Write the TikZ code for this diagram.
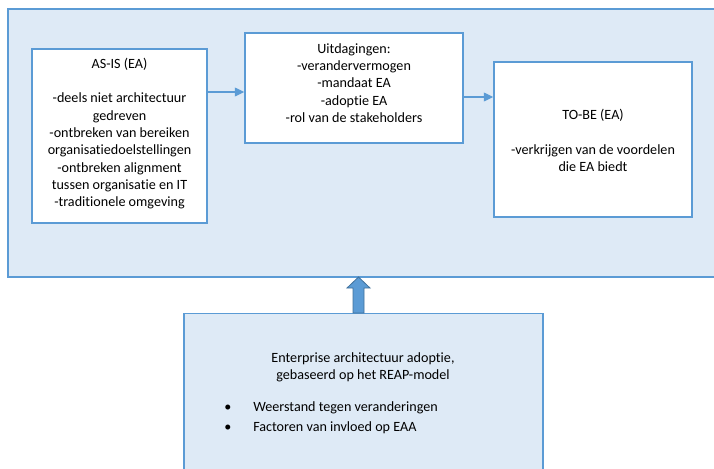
\documentclass[tikz,border=0pt]{standalone}
\usepackage{fontspec}
\setmainfont{Carlito}[Ligatures={NoCommon}]
\usetikzlibrary{arrows.meta,calc}
\newdimen\pxu \pxu=0.75pt
\definecolor{edgeblue}{HTML}{5B9BD5}
\definecolor{paleblue}{HTML}{DEEAF6}
\definecolor{darkedge}{HTML}{41719C}
\begin{document}
\begin{tikzpicture}[x=0.75pt,y=-0.75pt,
  panel/.style={draw=edgeblue,line width=1.1pt,fill=paleblue,inner sep=0pt,rectangle},
  whitebox/.style={draw=edgeblue,line width=1.1pt,fill=white,inner sep=0pt,rectangle},
  label/.style={align=center,inner sep=0pt,font=\fontsize{10.6}{13}\selectfont},
  conn/.style={draw=edgeblue,line width=1pt,-{Triangle[length=7pt,width=6.5pt]}}
]
\useasboundingbox (0,0) rectangle (714,468);
% outer frame (runs past the right margin)
\node[panel,minimum width=712\pxu,minimum height=268\pxu] (frame) at (364,143) {};
% the three stages
\node[whitebox,minimum width=175\pxu,minimum height=174\pxu] (asis) at (119.5,136) {};
\node[whitebox,minimum width=218\pxu,minimum height=110\pxu] (uitd) at (354,88) {};
\node[whitebox,minimum width=198\pxu,minimum height=155\pxu] (tobe) at (593,139.5) {};
\node[label] (asisText) at (119.5,133.5) {AS-IS (EA)\\ \mbox{}\\-deels niet architectuur\\gedreven\\-ontbreken van bereiken\\organisatiedoelstellingen\\-ontbreken alignment\\tussen organisatie en IT\\-traditionele omgeving};
\node[label] (uitdText) at (354,83) {Uitdagingen:\\-verandervermogen\\-mandaat EA\\-adoptie EA\\-rol van de stakeholders};
\node[label] (tobeText) at (593,140.5) {TO-BE (EA)\\ \mbox{}\\-verkrijgen van de voordelen\\die EA biedt};
% flow between the stages
\draw[conn] ([yshift=-3pt]uitd.west -| asis.east) -- ([yshift=-3pt]uitd.west);
\draw[conn] ([yshift=-6.75pt]uitd.east) -- ([yshift=-6.75pt]uitd.east -| tobe.west);
% adoption panel below
\node[panel,anchor=north,minimum width=359\pxu,minimum height=200\pxu] (adopt) at (363.5,313) {};
\node[label] (adoptText) at (363,367) {Enterprise architectuur adoptie,\\gebaseerd op het REAP-model};
\node[label] (b1) at (228,408) {\textbullet};
\node[label,anchor=west] (i1) at (253,408) {Weerstand tegen veranderingen};
\node[label] (b2) at (228,428) {\textbullet};
\node[label,anchor=west] (i2) at (253,428) {Factoren van invloed op EAA};
% block arrow from the adoption panel up into the frame
\coordinate (tip) at (358.5,277);
\coordinate (foot) at (358.5,313);
\draw[fill=edgeblue,draw=darkedge,line width=0.6pt]
  (tip) -- ($(tip)+(11.5,11)$) -- ($(tip)+(5.5,11)$) -- ($(foot)+(5.5,0)$)
  -- ($(foot)+(-5.5,0)$) -- ($(tip)+(-5.5,11)$) -- ($(tip)+(-11.5,11)$) -- cycle;
\end{tikzpicture}
\end{document}
